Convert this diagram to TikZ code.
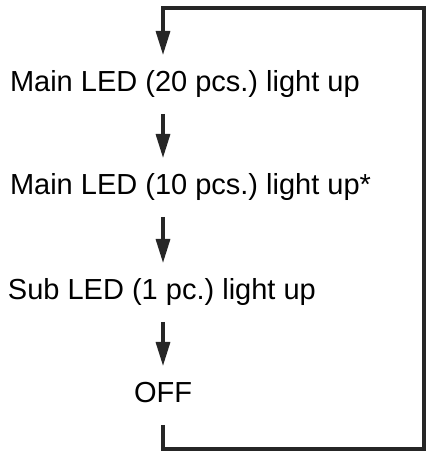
\documentclass[tikz,border=0pt]{standalone}
\usepackage{fontspec}
\setmainfont{Liberation Sans}
\usetikzlibrary{arrows.meta}
\frenchspacing

\begin{document}
\begin{tikzpicture}[x=1pt, y=1pt, >={Triangle[length=24pt, width=14pt]},
		stage/.style={inner xsep=0pt, inner ysep=16pt, outer sep=0pt, text height=21pt, text depth=6pt, font=\fontsize{29}{34}\selectfont},
		flow/.style={->, line width=3.2pt, draw=black!85}]
		% Cadre de la figure
		\useasboundingbox (0,0) rectangle (433,460);

		% Etapes du cycle
		\node[stage, anchor=base west] (main20) at (10,368) {Main LED (20 pcs.) light up};
		\node[stage, anchor=base west] (main10) at (10,265) {Main LED (10 pcs.) light up*};
		\node[stage, anchor=base west] (sub1) at (8,160) {Sub LED (1 pc.) light up};
		\node[stage, anchor=base] (off) at (163,57) {OFF};

		% Fleches entre les etapes
		\draw[flow] (main20.south -| off.south) -- (main10.north -| off.south);
		\draw[flow] (main10.south -| off.south) -- (sub1.north -| off.south);
		\draw[flow] (sub1.south -| off.south) -- (off.north);

		% Retour au debut
		\coordinate (bottomright) at (424,11);
		\coordinate (topright) at (424,452);
		\draw[flow] (off.south) |- (bottomright) -- (topright) -| (main20.north -| off.south);
	\end{tikzpicture}
\end{document}
